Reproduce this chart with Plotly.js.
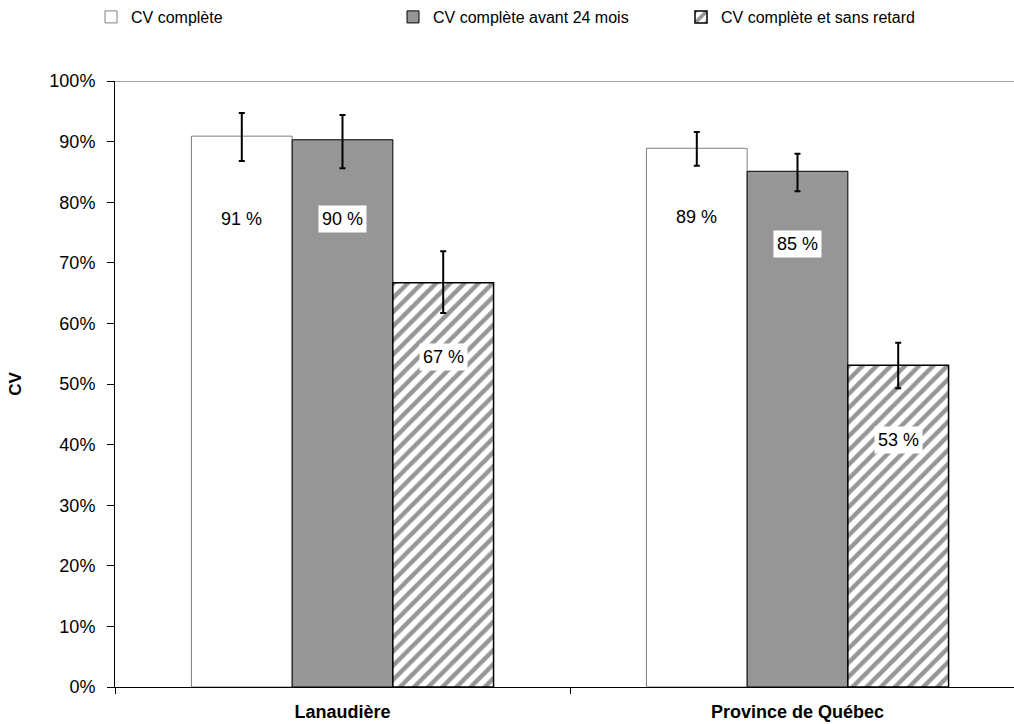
<!DOCTYPE html>
<html>
<head>
<meta charset="utf-8">
<script src="https://cdn.plot.ly/plotly-3.0.1.min.js"></script>
<style>
html, body { margin: 0; padding: 0; overflow: hidden; background: #fff; }
#chart { width: 1040px; height: 724px; }
</style>
</head>
<body>
<div id="chart"></div>
<script>
// ---- data ----
const categories = ["Lanaudière", "Province de Québec"];
const seriesNames = ["CV complète", "CV complète avant 24 mois", "CV complète et sans retard"];
const cvComplete = [90.9, 88.9];
const cvBefore24 = [90.3, 85.1];
const cvNoDelay = [66.7, 53.1];
const cvCompletePlus = [3.8, 2.7];
const cvCompleteMinus = [4.1, 2.9];
const cvBefore24Plus = [4.1, 2.9];
const cvBefore24Minus = [4.7, 3.3];
const cvNoDelayPlus = [5.2, 3.7];
const cvNoDelayMinus = [5.0, 3.8];
const yTickVals = [0, 10, 20, 30, 40, 50, 60, 70, 80, 90, 100];
const yTickText = ["0%", "10%", "20%", "30%", "40%", "50%", "60%", "70%", "80%", "90%", "100%"];

const values = [cvComplete, cvBefore24, cvNoDelay];
const plus = [cvCompletePlus, cvBefore24Plus, cvNoDelayPlus];
const minus = [cvCompleteMinus, cvBefore24Minus, cvNoDelayMinus];

const FONT = "Liberation Sans, Arial, Helvetica, sans-serif";

const markers = [
  { color: "#ffffff", line: { color: "#7f7f7f", width: 1 } },
  { color: "#969696", line: { color: "#000000", width: 1 } },
  { color: "#ffffff", line: { color: "#000000", width: 1.5 },
    pattern: { shape: "/", fgcolor: "#969696", bgcolor: "#ffffff", size: 10, solidity: 0.45 } }
];
const legendWidths = [257, 243, 250];

const traces = values.map((vals, i) => ({
  type: "bar",
  name: seriesNames[i],
  x: categories,
  y: vals,
  marker: markers[i],
  legendwidth: legendWidths[i],
  error_y: { type: "data", symmetric: false, array: plus[i], arrayminus: minus[i],
             color: "#000000", thickness: 2, width: 3 },
  hoverinfo: "skip"
}));

// label offsets below the top of each bar (in %)
const labelDrop = [[13.6, 11.3], [13.0, 12.0], [12.2, 12.3]];
const annotations = [];
values.forEach((vals, i) => {
  vals.forEach((v, j) => {
    annotations.push({
      x: categories[j], y: v - labelDrop[i][j], xref: "x", yref: "y",
      xshift: (i - 1) * 101,
      text: Math.round(v) + " %",
      showarrow: false,
      bgcolor: "#ffffff",
      borderpad: 3,
      font: { family: FONT, size: 18, color: "#000" }
    });
  });
});

const layout = {
  width: 1040,
  height: 724,
  margin: { l: 115, r: 15, t: 81, b: 37 },
  paper_bgcolor: "#ffffff",
  plot_bgcolor: "#ffffff",
  barmode: "group",
  bargap: 0.336,
  bargroupgap: 0,
  font: { family: FONT, color: "#000" },
  showlegend: true,
  legend: {
    orientation: "h",
    xref: "container", yref: "container",
    x: 0.0875, y: 1.0, xanchor: "left", yanchor: "top",
    font: { family: FONT, size: 16, color: "#000" },
    itemwidth: 30,
    traceorder: "normal"
  },
  xaxis: {
    type: "category",
    range: [-0.5, 1.5],
    showline: true, linecolor: "#000", linewidth: 1,
    ticks: "outside", tickson: "boundaries", ticklen: 6, tickcolor: "#000",
    showgrid: false, zeroline: false,
    ticklabelstandoff: 8,
    tickfont: { family: FONT, size: 18, color: "#000", weight: "bold" },
    fixedrange: true
  },
  yaxis: {
    range: [0, 100],
    tickvals: yTickVals, ticktext: yTickText,
    showline: true, linecolor: "#000", linewidth: 1,
    ticks: "outside", ticklen: 7, tickcolor: "#000",
    showgrid: false, zeroline: false,
    ticklabelstandoff: 8,
    tickfont: { family: FONT, size: 18, color: "#000" },
    title: { text: "CV", font: { family: FONT, size: 17, color: "#000", weight: "bold" }, standoff: 23 },
    fixedrange: true
  },
  shapes: [{
    type: "line", xref: "paper", yref: "y", x0: 0, x1: 1, y0: 100, y1: 100,
    line: { color: "#a6a6a6", width: 2 }, layer: "below"
  }],
  annotations: annotations
};

Plotly.newPlot("chart", traces, layout, { staticPlot: true, displayModeBar: false });
</script>
</body>
</html>
